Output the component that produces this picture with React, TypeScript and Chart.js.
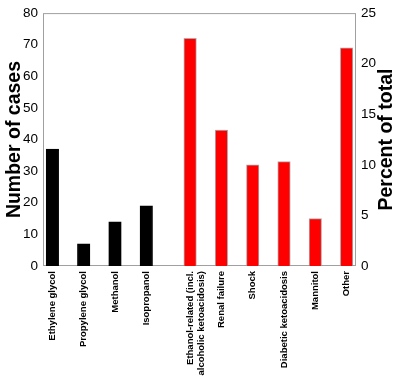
import React, { useEffect, useRef } from "react";
import { Chart, registerables } from "chart.js";

Chart.register(...registerables);

const categories: (string | string[])[] = [
  "Ethylene glycol",
  "Propylene glycol",
  "Methanol",
  "Isopropanol",
  ["Ethanol-related (incl.", "alcoholic ketoacidosis)"],
  "Renal failure",
  "Shock",
  "Diabetic ketoacidosis",
  "Mannitol",
  "Other",
];
// slot positions along the x axis (toxic alcohols, then a wider gap, then other causes)
const categoryPositions = [1, 2, 3, 4, 5.4, 6.4, 7.4, 8.4, 9.4, 10.4];
const cases = [37, 7, 14, 19, 72, 43, 32, 33, 15, 69];
const groups = ["alcohol", "alcohol", "alcohol", "alcohol", "other", "other", "other", "other", "other", "other"];
const leftTicks = { min: 0, max: 80, step: 10 };
const rightTicks = { min: 0, max: 25, step: 5 };
const leftTitle = "Number of cases";
const rightTitle = "Percent of total";

const FONT = "'Liberation Sans', Arial, sans-serif";

const framePlugin = {
  id: "frame",
  beforeDatasetsDraw(chart: any) {
    const { ctx, chartArea: a } = chart;
    ctx.save();
    ctx.strokeStyle = "#a0a0a0";
    ctx.lineWidth = 1;
    ctx.strokeRect(a.left + 0.5, a.top + 0.5, a.right - a.left - 1, a.bottom - a.top - 1);
    ctx.restore();
  },
  afterDraw(chart: any) {
    const { ctx, chartArea: a } = chart;
    ctx.save();
    ctx.translate(chart.width - 13, (a.top + a.bottom) / 2);
    ctx.rotate(-Math.PI / 2);
    ctx.font = `bold 19.5px ${FONT}`;
    ctx.fillStyle = "#000";
    ctx.textAlign = "center";
    ctx.textBaseline = "middle";
    ctx.fillText(rightTitle, 0, 0);
    ctx.restore();
  },
};

export default function App() {
  const ref = useRef<HTMLCanvasElement>(null);
  useEffect(() => {
    if (!ref.current) return;
    const chart = new Chart(ref.current, {
      type: "bar",
      data: {
        datasets: [
          {
            data: categoryPositions.map((x, i) => ({ x, y: cases[i] })),
            backgroundColor: groups.map((g) => (g === "alcohol" ? "#000000" : "#ff0000")),
            borderColor: groups.map((g) => (g === "alcohol" ? "#000000" : "rgba(150,150,150,0.8)")),
            borderWidth: 1,
            barThickness: 12.5,
            yAxisID: "y",
          },
        ],
      },
      plugins: [framePlugin],
      options: {
        animation: false,
        responsive: false,
        layout: { padding: { top: 13, left: 0, right: 0, bottom: 0 } },
        plugins: { legend: { display: false }, tooltip: { enabled: false } },
        scales: {
          x: {
            type: "linear",
            min: 0.7,
            max: 10.7,
            offset: false,
            grid: { display: false, drawTicks: false },
            border: { display: false },
            afterBuildTicks: (scale: any) => {
              scale.ticks = categoryPositions.map((v) => ({ value: v }));
            },
            afterFit: (scale: any) => {
              scale.height = 111;
            },
            ticks: {
              autoSkip: false,
              minRotation: 90,
              maxRotation: 90,
              padding: 5,
              color: "#000",
              font: { family: FONT, size: 9.5, weight: "bold" },
              callback: (_v: any, i: number) => categories[i] as any,
            },
          },
          y: {
            position: "left",
            min: leftTicks.min,
            max: leftTicks.max,
            grid: { display: false, drawTicks: false },
            border: { display: false },
            afterFit: (scale: any) => {
              scale.width = 43;
            },
            ticks: {
              stepSize: leftTicks.step,
              padding: 5,
              color: "#000",
              font: { family: FONT, size: 13.5 },
            },
            title: {
              display: true,
              text: leftTitle,
              color: "#000",
              padding: { top: 3, bottom: 0 },
              font: { family: FONT, size: 19.5, weight: "bold" },
            },
          },
          y1: {
            position: "right",
            min: rightTicks.min,
            max: rightTicks.max,
            grid: { display: false, drawTicks: false },
            border: { display: false },
            afterFit: (scale: any) => {
              scale.width = 44;
            },
            ticks: {
              stepSize: rightTicks.step,
              padding: 5,
              color: "#000",
              font: { family: FONT, size: 13.5 },
            },
          },
        },
      },
    } as any);
    return () => chart.destroy();
  }, []);
  return (
    <div style={{ position: "fixed", left: 0, top: 0, width: 400, height: 377, background: "#fff" }}>
      <canvas ref={ref} width={400} height={377} />
    </div>
  );
}
